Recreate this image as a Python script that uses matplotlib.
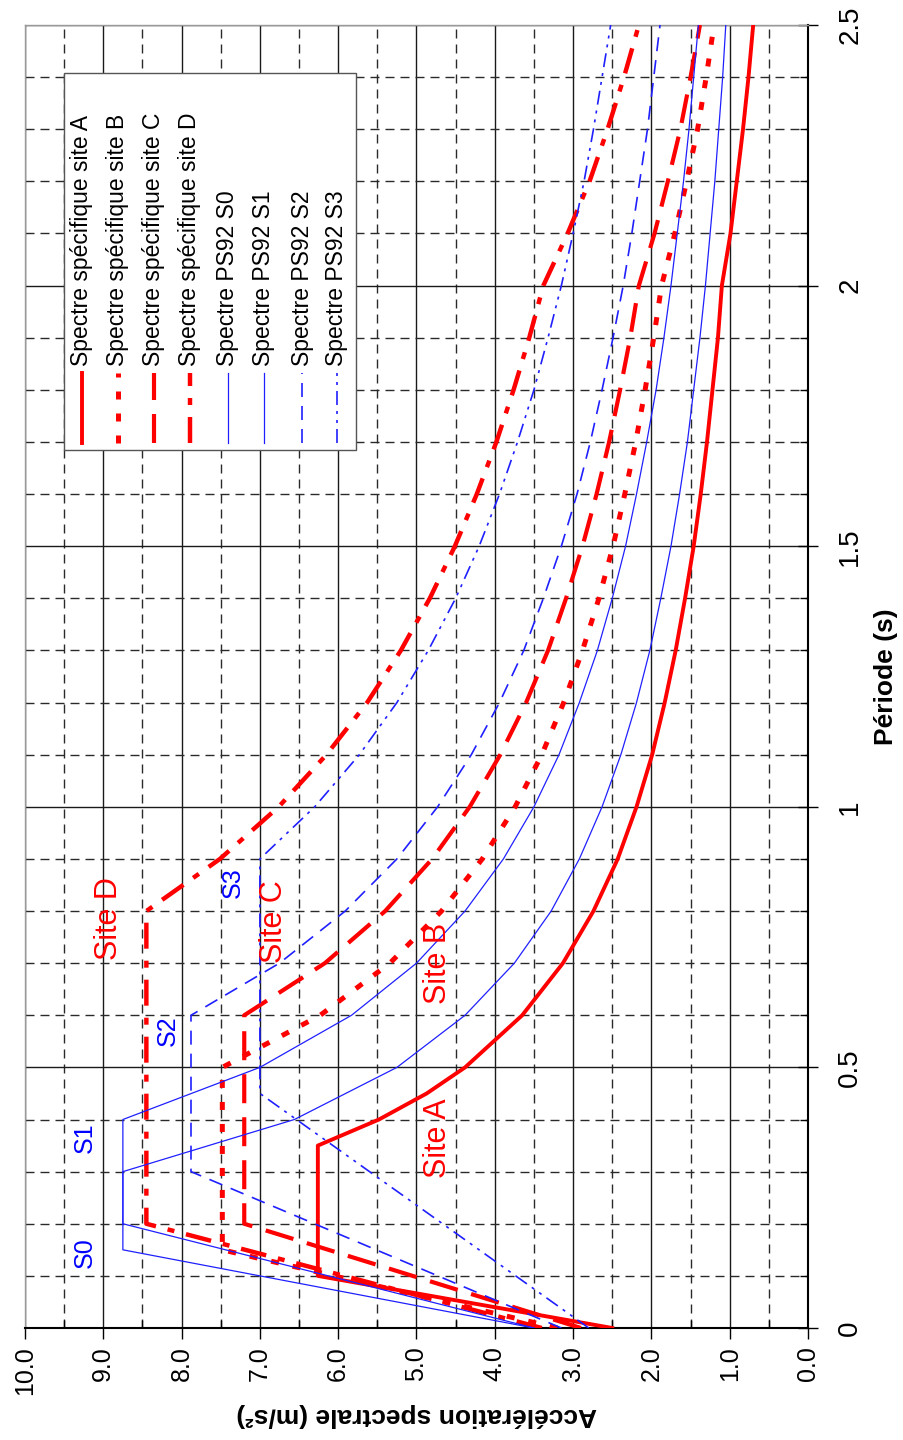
import matplotlib
matplotlib.use('Agg')
import matplotlib.pyplot as plt
from matplotlib.patches import Rectangle
from matplotlib.ticker import MultipleLocator, FuncFormatter

plt.rcParams['font.family'] = ['Liberation Sans', 'DejaVu Sans']
plt.rcParams['lines.scale_dashes'] = False

# spectres specifiques (periode s, acceleration m/s2)
T_A = [0, 0.1, 0.35, 0.4, 0.45, 0.5, 0.6, 0.7, 0.8, 0.9, 1.0, 1.1, 1.2, 1.3, 1.4, 1.5,
       1.6, 1.7, 1.8, 1.9, 2.0, 2.1, 2.2, 2.3, 2.4, 2.5]
A_A = [2.5, 6.26, 6.26, 5.48, 4.87, 4.38, 3.65, 3.13, 2.74, 2.43, 2.19, 1.99, 1.83, 1.69,
       1.57, 1.46, 1.37, 1.29, 1.22, 1.15, 1.10, 0.99, 0.91, 0.83, 0.76, 0.70]

T_B = [0, 0.15, 0.5, 0.6, 0.7, 0.8, 0.9, 1.0, 1.1, 1.2, 1.3, 1.4, 1.5, 1.6, 1.7, 1.8,
       1.9, 2.0, 2.1, 2.2, 2.3, 2.4, 2.5]
A_B = [3.2, 7.48, 7.48, 6.23, 5.34, 4.68, 4.16, 3.74, 3.40, 3.12, 2.88, 2.67, 2.49, 2.34,
       2.20, 2.08, 1.97, 1.87, 1.70, 1.55, 1.41, 1.30, 1.20]

T_C = [0, 0.2, 0.6, 0.7, 0.8, 0.9, 1.0, 1.1, 1.2, 1.3, 1.4, 1.5, 1.6, 1.7, 1.8, 1.9,
       2.0, 2.1, 2.2, 2.3, 2.4, 2.5]
A_C = [2.9, 7.2, 7.2, 6.17, 5.4, 4.8, 4.32, 3.93, 3.6, 3.32, 3.09, 2.88, 2.7, 2.54, 2.4,
       2.27, 2.16, 1.96, 1.79, 1.63, 1.50, 1.38]

T_D = [0, 0.2, 0.8, 0.9, 1.0, 1.1, 1.2, 1.3, 1.4, 1.5, 1.6, 1.7, 1.8, 1.9, 2.0, 2.1,
       2.2, 2.3, 2.4, 2.5]
A_D = [3.4, 8.45, 8.45, 7.51, 6.76, 6.15, 5.63, 5.2, 4.83, 4.51, 4.23, 3.98, 3.76, 3.56,
       3.38, 3.07, 2.79, 2.56, 2.35, 2.16]

# spectres PS92
T_S0 = [0, 0.15, 0.3, 0.4, 0.5, 0.6, 0.7, 0.8, 0.9, 1.0, 1.1, 1.2, 1.3, 1.4, 1.5, 1.6,
        1.7, 1.8, 1.9, 2.0, 2.1, 2.2, 2.3, 2.4, 2.5]
A_S0 = [3.5, 8.75, 8.75, 6.56, 5.25, 4.38, 3.75, 3.28, 2.92, 2.63, 2.39, 2.19, 2.02, 1.88,
        1.75, 1.64, 1.54, 1.46, 1.38, 1.31, 1.25, 1.19, 1.14, 1.09, 1.05]

T_S1 = [0, 0.2, 0.4, 0.5, 0.6, 0.7, 0.8, 0.9, 1.0, 1.1, 1.2, 1.3, 1.4, 1.5, 1.6, 1.7,
        1.8, 1.9, 2.0, 2.1, 2.2, 2.3, 2.4, 2.5]
A_S1 = [3.5, 8.75, 8.75, 7.0, 5.83, 5.0, 4.38, 3.89, 3.5, 3.18, 2.92, 2.69, 2.5, 2.33,
        2.19, 2.06, 1.94, 1.84, 1.75, 1.67, 1.59, 1.52, 1.46, 1.4]

T_S2 = [0, 0.3, 0.6, 0.7, 0.8, 0.9, 1.0, 1.1, 1.2, 1.3, 1.4, 1.5, 1.6, 1.7, 1.8, 1.9,
        2.0, 2.1, 2.2, 2.3, 2.4, 2.5]
A_S2 = [3.15, 7.88, 7.88, 6.75, 5.91, 5.25, 4.73, 4.30, 3.94, 3.63, 3.38, 3.15, 2.95, 2.78,
        2.63, 2.49, 2.36, 2.25, 2.15, 2.05, 1.97, 1.89]

T_S3 = [0, 0.45, 0.9, 1.0, 1.1, 1.2, 1.3, 1.4, 1.5, 1.6, 1.7, 1.8, 1.9, 2.0, 2.1, 2.2,
        2.3, 2.4, 2.5]
A_S3 = [2.8, 7.0, 7.0, 6.3, 5.73, 5.25, 4.85, 4.5, 4.2, 3.94, 3.71, 3.5, 3.32, 3.15, 3.0,
        2.86, 2.74, 2.63, 2.52]

names = ['Spectre spécifique site A', 'Spectre spécifique site B',
         'Spectre spécifique site C', 'Spectre spécifique site D',
         'Spectre PS92 S0', 'Spectre PS92 S1', 'Spectre PS92 S2', 'Spectre PS92 S3']

# annotations (texte, acceleration, periode, couleur, taille)
notes = [('Site A', 4.72, 0.365, 'red', 22), ('Site B', 4.72, 0.70, 'red', 22),
         ('Site C', 6.82, 0.78, 'red', 22), ('Site D', 8.93, 0.785, 'red', 22),
         ('S0', 9.23, 0.145, 'blue', 18), ('S1', 9.23, 0.365, 'blue', 18),
         ('S2', 8.18, 0.57, 'blue', 18), ('S3', 7.34, 0.855, 'blue', 18)]

PX = 0.72  # points par pixel a 100 dpi
RED = '#ff0000'
BLUE = '#2020ff'
styles = [
    dict(color=RED, lw=2.8, ls='-'),
    dict(color=RED, lw=3.6, ls=(0, (8 * PX, 14 * PX))),
    dict(color=RED, lw=3.0, ls=(0, (29 * PX, 14 * PX))),
    dict(color=RED, lw=3.2, ls=(0, (26 * PX, 12 * PX, 7 * PX, 12 * PX))),
    dict(color=BLUE, lw=0.9, ls='-'),
    dict(color=BLUE, lw=0.9, ls='-'),
    dict(color=BLUE, lw=1.2, ls=(0, (14 * PX, 9 * PX))),
    dict(color=BLUE, lw=1.2, ls=(0, (14 * PX, 6 * PX, 3 * PX, 6 * PX, 3 * PX, 6 * PX))),
]
data = [(T_A, A_A), (T_B, A_B), (T_C, A_C), (T_D, A_D),
        (T_S0, A_S0), (T_S1, A_S1), (T_S2, A_S2), (T_S3, A_S3)]

NARROW = ['Liberation Sans Narrow', 'Liberation Sans', 'DejaVu Sans']

W, H = 904, 1440
L, R, TOP, BOT = 25, 808, 25, 1328

fig = plt.figure(figsize=(W / 100, H / 100), dpi=100)
ax = fig.add_axes([L / W, 1 - BOT / H, (R - L) / W, (BOT - TOP) / H])
ax.set_xlim(10, 0)
ax.set_ylim(0, 2.5)

ax.xaxis.set_major_locator(MultipleLocator(1))
ax.xaxis.set_minor_locator(MultipleLocator(0.5))
ax.yaxis.set_major_locator(MultipleLocator(0.5))
ax.yaxis.set_minor_locator(MultipleLocator(0.1))
ax.xaxis.set_major_formatter(FuncFormatter(lambda v, p: '%.1f' % v))
ax.yaxis.set_major_formatter(FuncFormatter(lambda v, p: '%g' % v))

ax.set_axisbelow(True)
ax.grid(which='major', color='#1a1a1a', lw=1.0, ls='-')
ax.grid(which='minor', color='#2a2a2a', lw=1.0, ls=(0, (9 * PX, 6 * PX)))

ax.yaxis.tick_right()
ax.yaxis.set_label_position('right')
ax.tick_params(axis='x', which='major', direction='out', length=8, width=1,
               labelsize=18, labelrotation=90, pad=5)
ax.tick_params(axis='x', which='minor', direction='in', length=6, width=1)
ax.tick_params(axis='y', which='major', direction='inout', length=14, width=1,
               labelsize=20, labelrotation=90, pad=14)
ax.tick_params(axis='y', which='minor', direction='in', length=6, width=1)
for lbl in ax.get_yticklabels():
    lbl.set_va('center')
    lbl.set_family(NARROW)

for side in ['right', 'bottom']:
    ax.spines[side].set_color('black')
    ax.spines[side].set_linewidth(1.5)
for side in ['left', 'top']:
    ax.spines[side].set_color('#9a9a9a')
    ax.spines[side].set_linewidth(1.0)

for (t, a), st in zip(data, styles):
    ax.plot(a, t, zorder=3, **st)

for txt, a, t, c, fs in notes:
    ax.text(a, t, txt, color=c, fontsize=fs, rotation=90, ha='center', va='center', zorder=4)

ax.set_xlabel('Accélération spectrale (m/s²)', rotation=180, fontsize=19,
              fontweight='bold', labelpad=6)
ax.set_ylabel('Période (s)', fontsize=19, fontweight='bold', labelpad=8, family=NARROW)


# legende dessinee a la main (graphique tourne de 90 degres)
def frac(px, py):
    return (px - L) / (R - L), (BOT - py) / (BOT - TOP)


x0, y0 = frac(64, 450)
x1, y1 = frac(356, 73)
ax.add_patch(Rectangle((x0, y0), x1 - x0, y1 - y0, transform=ax.transAxes,
                       fc='white', ec='#555555', lw=1.0, zorder=5))
cols = [82, 118, 154, 190, 228, 264, 302, 337]
for cx, name, st in zip(cols, names, styles):
    xa, ya0 = frac(cx, 443)
    _, ya1 = frac(cx, 373)
    ax.plot([xa, xa], [ya0, ya1], transform=ax.transAxes, zorder=6, **st)
    ax.text(xa, frac(cx, 366)[1], name, transform=ax.transAxes, rotation=90,
            ha='center', va='bottom', fontsize=16.5, zorder=6)

fig.savefig('out.png', dpi=100)
